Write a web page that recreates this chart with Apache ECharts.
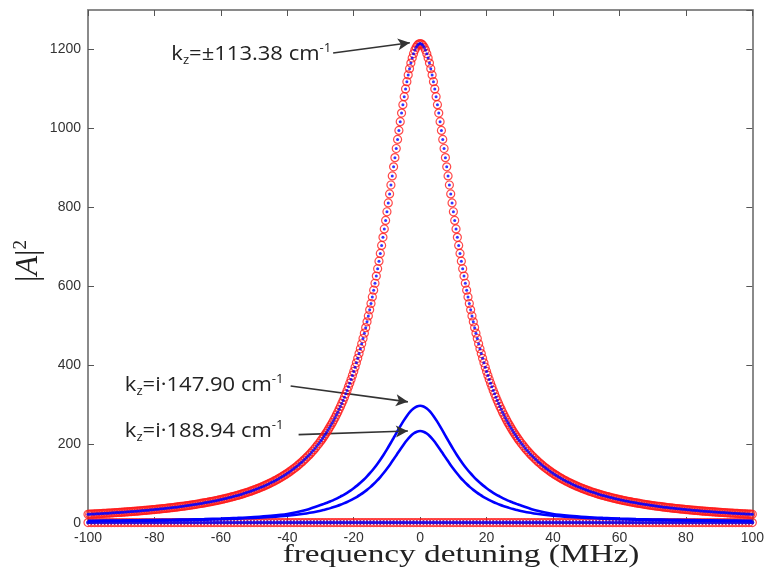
<!DOCTYPE html>
<html>
<head>
<meta charset="utf-8">
<script src="https://cdn.jsdelivr.net/npm/echarts@6/dist/echarts.min.js"></script>
<style>
  html, body { margin: 0; padding: 0; background: #ffffff; }
  #chart { width: 767px; height: 573px; }
</style>
</head>
<body>
<div id="chart"></div>
<script>
// Frequency detuning axis (MHz) and |A|^2 axis ranges
const detuningMin = -100, detuningMax = 100, detuningStep = 20;
const powerMin = 0, powerMax = 1300, powerStep = 200;

// Sampling grids: [start, end, step] segments in MHz
const mainGridSegments = [[-100, -30, 0.5], [-29.6, 29.6, 0.4], [30, 100, 0.5]];
const lineGridSegments = [[-100, -35, 5], [-30, 30, 1], [35, 100, 5]];
const flatGridSegments = [[-100, 100, 1]];

// kz = ±113.38 cm^-1 : left wing (-100 … -30 MHz, 0.5 MHz step)
const mainLeftTail = [
  22.1,
  22.3, 22.5, 22.7, 23.0, 23.2, 23.4, 23.7, 23.9, 24.2, 24.4,
  24.7, 24.9, 25.2, 25.4, 25.7, 26.0, 26.3, 26.6, 26.8, 27.1,
  27.4, 27.7, 28.0, 28.3, 28.7, 29.0, 29.3, 29.6, 30.0, 30.3,
  30.7, 31.0, 31.4, 31.8, 32.2, 32.5, 32.9, 33.3, 33.7, 34.1,
  34.6, 35.0, 35.4, 35.9, 36.3, 36.8, 37.2, 37.7, 38.2, 38.7,
  39.2, 39.7, 40.2, 40.8, 41.3, 41.9, 42.4, 43.0, 43.6, 44.2,
  44.8, 45.4, 46.1, 46.7, 47.4, 48.1, 48.8, 49.5, 50.2, 51.0,
  51.7, 52.5, 53.3, 54.1, 54.9, 55.8, 56.7, 57.5, 58.5, 59.4,
  60.3, 61.3, 62.3, 63.3, 64.4, 65.5, 66.6, 67.7, 68.8, 70.0,
  71.2, 72.5, 73.8, 75.1, 76.4, 77.8, 79.2, 80.7, 82.2, 83.7,
  85.3, 86.9, 88.6, 90.3, 92.1, 93.9, 95.8, 97.7, 99.7, 101.7,
  103.8, 106.0, 108.2, 110.5, 112.9, 115.3, 117.9, 120.5, 123.1, 125.9,
  128.8, 131.8, 134.8, 138.0, 141.3, 144.6, 148.1, 151.8, 155.5, 159.4,
  163.4, 167.6, 171.9, 176.4, 181.1, 185.9, 190.9, 196.1, 201.5, 207.2
];
// kz = ±113.38 cm^-1 : resonance core (-29.6 … 29.6 MHz, 0.4 MHz step)
const mainCore = [
  211.8, 216.6, 221.6, 226.7, 232.0, 237.4, 243.0, 248.9, 254.9, 261.1,
  267.5, 274.1, 280.9, 288.0, 295.4, 302.9, 310.7, 318.9, 327.3, 336.0,
  345.0, 354.3, 363.9, 373.9, 384.2, 394.9, 406.0, 417.4, 429.3, 441.6,
  454.3, 467.5, 481.0, 495.1, 509.7, 524.7, 540.3, 556.3, 572.8, 590.0,
  607.6, 625.7, 644.3, 663.5, 683.2, 703.4, 724.0, 745.2, 766.7, 788.7,
  811.0, 833.8, 856.5, 879.5, 902.7, 925.9, 949.0, 972.0, 994.8, 1017.1,
  1038.9, 1060.1, 1080.4, 1099.9, 1118.3, 1135.5, 1151.3, 1165.6, 1178.3, 1189.3,
  1198.4, 1205.6, 1210.8, 1213.9,
  1215.0,
  1213.9, 1210.8, 1205.6, 1198.4, 1189.3, 1178.3, 1165.6, 1151.3, 1135.5, 1118.3,
  1099.9, 1080.4, 1060.1, 1038.9, 1017.1, 994.8, 972.0, 949.0, 925.9, 902.7,
  879.5, 856.5, 833.8, 811.0, 788.7, 766.7, 745.2, 724.0, 703.4, 683.2,
  663.5, 644.3, 625.7, 607.6, 590.0, 572.8, 556.3, 540.3, 524.7, 509.7,
  495.1, 481.0, 467.5, 454.3, 441.6, 429.3, 417.4, 406.0, 394.9, 384.2,
  373.9, 363.9, 354.3, 345.0, 336.0, 327.3, 318.9, 310.7, 302.9, 295.4,
  288.0, 280.9, 274.1, 267.5, 261.1, 254.9, 248.9, 243.0, 237.4, 232.0,
  226.7, 221.6, 216.6, 211.8
];
// kz = ±113.38 cm^-1 : right wing (30 … 100 MHz, 0.5 MHz step)
const mainRightTail = [
  207.2, 201.5, 196.1, 190.9, 185.9, 181.1, 176.4, 171.9, 167.6, 163.4,
  159.4, 155.5, 151.8, 148.1, 144.6, 141.3, 138.0, 134.8, 131.8, 128.8,
  125.9, 123.1, 120.5, 117.9, 115.3, 112.9, 110.5, 108.2, 106.0, 103.8,
  101.7, 99.7, 97.7, 95.8, 93.9, 92.1, 90.3, 88.6, 86.9, 85.3,
  83.7, 82.2, 80.7, 79.2, 77.8, 76.4, 75.1, 73.8, 72.5, 71.2,
  70.0, 68.8, 67.7, 66.6, 65.5, 64.4, 63.3, 62.3, 61.3, 60.3,
  59.4, 58.5, 57.5, 56.7, 55.8, 54.9, 54.1, 53.3, 52.5, 51.7,
  51.0, 50.2, 49.5, 48.8, 48.1, 47.4, 46.7, 46.1, 45.4, 44.8,
  44.2, 43.6, 43.0, 42.4, 41.9, 41.3, 40.8, 40.2, 39.7, 39.2,
  38.7, 38.2, 37.7, 37.2, 36.8, 36.3, 35.9, 35.4, 35.0, 34.6,
  34.1, 33.7, 33.3, 32.9, 32.5, 32.2, 31.8, 31.4, 31.0, 30.7,
  30.3, 30.0, 29.6, 29.3, 29.0, 28.7, 28.3, 28.0, 27.7, 27.4,
  27.1, 26.8, 26.6, 26.3, 26.0, 25.7, 25.4, 25.2, 24.9, 24.7,
  24.4, 24.2, 23.9, 23.7, 23.4, 23.2, 23.0, 22.7, 22.5, 22.3,
  22.1
];

// kz = i·147.90 cm^-1
const evanescentUpper = [
  5.5, 6.0, 6.4, 6.9, 7.5, 8.2, 9.0, 10.0, 11.3, 13.0, 15.2, 18.3, 23.0, 31.5,
  45.5, 48.5, 51.5, 55.0, 58.5, 62.5, 67.0, 71.5, 76.5, 82.0,
  88.2, 94.7, 101.8, 109.6, 118.1, 127.4, 137.5, 148.5, 160.4, 173.1,
  186.6, 200.8, 215.4, 230.3, 244.8, 258.7, 271.3, 282.0, 290.1, 295.2,
  297.0,
  295.2, 290.1, 282.0, 271.3, 258.7, 244.8, 230.3, 215.4, 200.8, 186.6,
  173.1, 160.4, 148.5, 137.5, 127.4, 118.1, 109.6, 101.8, 94.7, 88.2,
  82.0, 76.5, 71.5, 67.0, 62.5, 58.5, 55.0, 51.5, 48.5, 45.5,
  31.5, 23.0, 18.3, 15.2, 13.0, 11.3, 10.0, 9.0, 8.2, 7.5, 6.9, 6.4, 6.0, 5.5
];

// kz = i·188.94 cm^-1
const evanescentLower = [
  4.6, 5.0, 5.4, 5.9, 6.4, 7.0, 7.7, 8.6, 9.7, 11.1, 12.9, 15.3, 18.5, 23.5,
  31.1, 33.1, 35.3, 37.7, 40.3, 43.1, 46.2, 49.6, 53.3, 57.3,
  61.7, 66.4, 71.7, 77.5, 83.9, 90.9, 98.7, 107.2, 116.5, 126.6,
  137.5, 149.1, 161.3, 173.8, 186.4, 198.5, 209.7, 219.3, 226.7, 231.4,
  233.0,
  231.4, 226.7, 219.3, 209.7, 198.5, 186.4, 173.8, 161.3, 149.1, 137.5,
  126.6, 116.5, 107.2, 98.7, 90.9, 83.9, 77.5, 71.7, 66.4, 61.7,
  57.3, 53.3, 49.6, 46.2, 43.1, 40.3, 37.7, 35.3, 33.1, 31.1,
  23.5, 18.5, 15.3, 12.9, 11.1, 9.7, 8.6, 7.7, 7.0, 6.4, 5.9, 5.4, 5.0, 4.6
];

// Non-resonant branch lying on the baseline (-100 … 100 MHz, 1 MHz step)
const baselineBranch = [
  1, 1, 1, 1, 1, 1, 1, 1, 1, 1, 1, 1, 1, 1, 1, 1, 1, 1, 1, 1,
  1, 1, 1, 1, 1, 1, 1, 1, 1, 1, 1, 1, 1, 1, 1, 1, 1, 1, 1, 1,
  1, 1, 1, 1, 1, 1, 1, 1, 1, 1, 1, 1, 1, 1, 1, 1, 1, 1, 1, 1,
  1, 1, 1, 1, 1, 1, 1, 1, 1, 1, 1, 1, 1, 1, 1, 1, 1, 1, 1, 1,
  1, 1, 1, 1, 1, 1, 1, 1, 1, 1, 1, 1, 1, 1, 1, 1, 1, 1, 1, 1,
  1,
  1, 1, 1, 1, 1, 1, 1, 1, 1, 1, 1, 1, 1, 1, 1, 1, 1, 1, 1, 1,
  1, 1, 1, 1, 1, 1, 1, 1, 1, 1, 1, 1, 1, 1, 1, 1, 1, 1, 1, 1,
  1, 1, 1, 1, 1, 1, 1, 1, 1, 1, 1, 1, 1, 1, 1, 1, 1, 1, 1, 1,
  1, 1, 1, 1, 1, 1, 1, 1, 1, 1, 1, 1, 1, 1, 1, 1, 1, 1, 1, 1,
  1, 1, 1, 1, 1, 1, 1, 1, 1, 1, 1, 1, 1, 1, 1, 1, 1, 1, 1, 1
];

// Annotation labels and the [detuning, |A|^2] points their arrows join
const annotationLabels = [
  { k: 'k', sub: 'z', body: '=±113.38 cm', sup: '-1' },
  { k: 'k', sub: 'z', body: '=i·147.90 cm', sup: '-1' },
  { k: 'k', sub: 'z', body: '=i·188.94 cm', sup: '-1' }
];
const annotationAnchors = [[-74.9, 1187], [-88.9, 349], [-88.9, 232]];
const arrowStarts = [[-26.2, 1191], [-39.0, 347], [-36.6, 224]];
const arrowEnds = [[-3.1, 1217], [-3.7, 307], [-3.7, 233]];

function sampleGrid(segments) {
  const xs = [];
  segments.forEach(function (s) {
    const n = Math.round((s[1] - s[0]) / s[2]);
    for (let i = 0; i <= n; i++) xs.push(+(s[0] + i * s[2]).toFixed(2));
  });
  return xs;
}
function pairs(xs, ys) { return xs.map(function (x, i) { return [x, ys[i]]; }); }

const mainGrid = sampleGrid(mainGridSegments);
const lineGrid = sampleGrid(lineGridSegments);
const flatGrid = sampleGrid(flatGridSegments);

const mainData = pairs(mainGrid, mainLeftTail.concat(mainCore, mainRightTail));
const upperData = pairs(lineGrid, evanescentUpper);
const lowerData = pairs(lineGrid, evanescentLower);
const flatData = pairs(flatGrid, baselineBranch);

const RED = '#ff1a1a', BLUE = '#0000ff', AXIS = '#8a8a8a';

const chart = echarts.init(document.getElementById('chart'), null, { renderer: 'canvas' });

function boxAxis(extra) {
  return Object.assign({
    axisLine: { show: true, onZero: false, lineStyle: { color: AXIS, width: 2 } },
    axisTick: { show: true, inside: true, length: 6, lineStyle: { color: '#555', width: 1 } },
    splitLine: { show: false }
  }, extra);
}
const plainNumber = function (v) { return String(v); };

const circleSeries = function (data, z) {
  return {
    type: 'scatter', data: data, symbol: 'circle', symbolSize: 8, clip: false, z: z,
    itemStyle: { color: 'rgba(0,0,0,0)', borderColor: RED, borderWidth: 1.2 },
    silent: true, animation: false
  };
};
const dotSeries = function (data, z, size) {
  return {
    type: 'scatter', data: data, symbol: 'circle', symbolSize: size, clip: false, z: z,
    itemStyle: { color: BLUE }, silent: true, animation: false
  };
};
const curveSeries = function (data, z) {
  return {
    type: 'line', data: data, showSymbol: false, smooth: 0.3, z: z,
    lineStyle: { color: BLUE, width: 2.6 }, silent: true, animation: false
  };
};

const option = {
  animation: false,
  backgroundColor: '#ffffff',
  grid: { left: 88, right: 10, top: 10, bottom: 50 },
  xAxis: [
    boxAxis({
      type: 'value', min: detuningMin, max: detuningMax, interval: detuningStep,
      position: 'bottom',
      axisLabel: { show: true, color: '#333', fontFamily: 'Liberation Sans', fontSize: 14, margin: 8, formatter: plainNumber }
    }),
    boxAxis({
      type: 'value', min: detuningMin, max: detuningMax, interval: detuningStep,
      position: 'top', axisLabel: { show: false }
    })
  ],
  yAxis: [
    boxAxis({
      type: 'value', min: powerMin, max: powerMax, interval: powerStep,
      position: 'left',
      axisLabel: { show: true, showMaxLabel: false, color: '#333', fontFamily: 'Liberation Sans', fontSize: 14, margin: 7, formatter: plainNumber }
    }),
    boxAxis({
      type: 'value', min: powerMin, max: powerMax, interval: powerStep,
      position: 'right', axisLabel: { show: false }
    })
  ],
  series: [
    circleSeries(flatData, 2),
    dotSeries(flatData, 3, 4),
    curveSeries(upperData, 4),
    curveSeries(lowerData, 4),
    circleSeries(mainData, 5),
    Object.assign(dotSeries(mainData, 6, 3), {
      markLine: {
        silent: true, animation: false,
        symbol: ['none', 'arrow'], symbolSize: [9, 12],
        label: { show: false },
        lineStyle: { color: '#333', width: 1.6, type: 'solid' },
        data: arrowStarts.map(function (s, i) { return [{ coord: s }, { coord: arrowEnds[i] }]; })
      }
    })
  ]
};
chart.setOption(option);

// Text annotations, axis titles
function labelText(l) {
  return '{m|' + l.k + '}{s|' + l.sub + '}{m|' + l.body + '}{p|' + l.sup + '}';
}
const annoRich = {
  m: { fontFamily: 'Open Sans', fontSize: 20, fill: '#222', lineHeight: 24 },
  s: { fontFamily: 'Open Sans', fontSize: 12, fill: '#222', verticalAlign: 'bottom', lineHeight: 12 },
  p: { fontFamily: 'Open Sans', fontSize: 12, fill: '#222', verticalAlign: 'top', lineHeight: 12 }
};
const graphics = annotationLabels.map(function (l, i) {
  const p = chart.convertToPixel({ xAxisIndex: 0, yAxisIndex: 0 }, annotationAnchors[i]);
  return {
    type: 'text', x: p[0], y: p[1], scaleX: 1.1, silent: true,
    style: { text: labelText(l), rich: annoRich, align: 'left', verticalAlign: 'middle' }
  };
});
graphics.push({
  type: 'text', x: 461, y: 555, scaleX: 1.28, silent: true,
  style: {
    text: 'frequency detuning (MHz)', fontFamily: 'Liberation Serif', fontSize: 26,
    fill: '#222', align: 'center', verticalAlign: 'middle'
  }
});
graphics.push({
  type: 'text', x: 29, y: 261, rotation: Math.PI / 2, silent: true,
  style: {
    text: '{a||}{i|A}{a||}{p|2}', align: 'center', verticalAlign: 'middle',
    rich: {
      a: { fontFamily: 'Liberation Serif', fontSize: 32, fill: '#222', lineHeight: 34 },
      i: { fontFamily: 'Liberation Serif', fontStyle: 'italic', fontSize: 32, fill: '#222', lineHeight: 34 },
      p: { fontFamily: 'Liberation Serif', fontSize: 19, fill: '#222', verticalAlign: 'top', lineHeight: 19 }
    }
  }
});
chart.setOption({ graphic: graphics });
</script>
</body>
</html>
